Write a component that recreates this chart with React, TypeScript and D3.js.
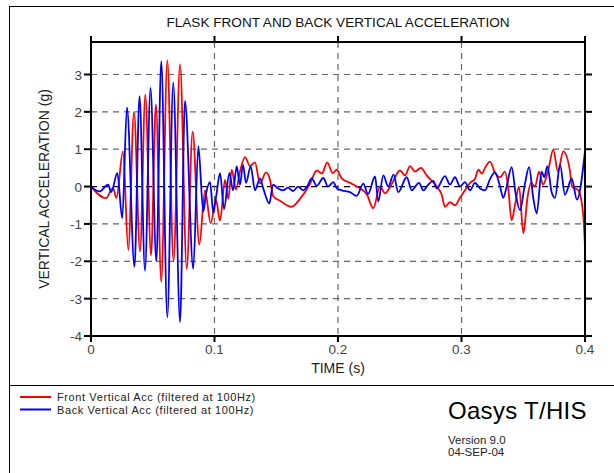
import React from 'react';
import * as d3 from 'd3';

// front (red) trace
const frontTime = [
  0, 0.0121, 0.0178, 0.0206, 0.0259, 0.0302, 0.0348, 0.0397, 0.044, 0.0486, 0.0526, 0.0569,
  0.0618, 0.0668, 0.0721, 0.0775, 0.0823, 0.0877, 0.0923, 0.0969, 0.1012, 0.1045, 0.1085,
  0.1112, 0.1139, 0.1174, 0.1206, 0.1247, 0.1287, 0.1328, 0.1368, 0.1417, 0.1449, 0.1476,
  0.153, 0.1625, 0.1692, 0.1773, 0.1828, 0.187, 0.1913, 0.1957, 0.1989, 0.203, 0.2097,
  0.2164, 0.2232, 0.2286, 0.234, 0.2381, 0.2435, 0.2502, 0.2543, 0.2583, 0.2623, 0.2672,
  0.2718, 0.2799, 0.284, 0.2866, 0.2907, 0.2947, 0.2988, 0.3028, 0.3069, 0.3109, 0.3136,
  0.3166, 0.319, 0.3231, 0.3271, 0.3312, 0.3352, 0.3377, 0.3406, 0.3433, 0.3466, 0.3501,
  0.3534, 0.3563, 0.3595, 0.3628, 0.366, 0.3703, 0.3743, 0.3781, 0.3824, 0.3878, 0.3895,
  0.3946, 0.3984, 0.4,
];
const frontAcc = [
  0, -0.31, -0.04, -0.3, 0.94, -1.7, 2.0, -1.74, 2.46, -1.84, 2.2, -2.55,
  3.38, -2.0, 3.27, -2.2, 1.47, -1.55, -0.1, -0.98, -0.36, -0.91, 0.18,
  -0.33, 0.45, -0.08, 0.4, 0.79, 0.55, 0.65, 0.08, 0.38, 0.19, -0.26,
  -0.38, -0.54, -0.33, 0.07, 0.43, 0.35, 0.65, 0.36, 0.45, 0.22, 0.1,
  -0.02, -0.2, -0.58, 0.0, -0.18, 0.07, 0.43, 0.3, 0.55, 0.4, 0.5,
  0.3, 0.0, -0.22, -0.54, -0.42, -0.5, -0.3, -0.1, 0.1, 0.2, 0.45,
  0.35, 0.5, 0.67, 0.37, 0.25, 0.4, 0.0, -0.9, -0.5, 0.0, -1.25,
  -0.3, 0.1, 0.0, 0.4, 0.05, 0.45, 0.99, 0.4, 0.94, 0.42, 0.0,
  -0.1, -0.7, -1.61,
];

// back (blue) trace
const backTime = [
  0, 0.007, 0.0138, 0.0164, 0.0213, 0.0253, 0.0291, 0.0352, 0.0393, 0.0437, 0.0482, 0.0529,
  0.0569, 0.0618, 0.0666, 0.0721, 0.0761, 0.0828, 0.0869, 0.0909, 0.0931, 0.0964, 0.099,
  0.1016, 0.1045, 0.1077, 0.112, 0.115, 0.118, 0.1206, 0.1231, 0.1255, 0.1293, 0.1328,
  0.1368, 0.1395, 0.1444, 0.1474, 0.1514, 0.1555, 0.1595, 0.1636, 0.1676, 0.1717, 0.1749,
  0.1787, 0.1828, 0.1881, 0.1919, 0.1962, 0.1992, 0.203, 0.2097, 0.2151, 0.2205, 0.2243,
  0.23, 0.2326, 0.2367, 0.2407, 0.245, 0.2488, 0.2556, 0.2597, 0.2656, 0.2691, 0.2731,
  0.2772, 0.2799, 0.2866, 0.2907, 0.2947, 0.2988, 0.3028, 0.3069, 0.3109, 0.315, 0.319,
  0.3231, 0.3271, 0.3312, 0.3338, 0.3366, 0.3406, 0.3439, 0.3474, 0.3514, 0.3547, 0.3581,
  0.3609, 0.3649, 0.367, 0.3695, 0.373, 0.3757, 0.3798, 0.3838, 0.3892, 0.3935, 0.4,
];
const backAcc = [
  0, -0.13, 0.05, -0.15, 0.36, -0.85, 2.12, -2.15, 2.42, -2.25, 2.64, -2.0,
  3.36, -3.5, 2.78, -3.63, 2.29, -2.2, 1.08, -0.67, -0.2, 0.12, -0.69,
  -0.2, 0.36, -0.6, 0.36, -0.1, 0.54, 0.05, 0.58, 0.1, 0.54, -0.1,
  0.22, -0.05, -0.45, 0.05, -0.05, -0.1, -0.03, -0.12, 0.0, -0.1, 0.0,
  0.22, 0.02, 0.23, 0.0, 0.12, -0.05, -0.1, -0.15, -0.25, 0.08, -0.2,
  0.27, -0.4, 0.3, 0.0, 0.32, -0.15, 0.25, -0.1, 0.1, -0.1, 0.05,
  0.15, -0.05, 0.28, 0.05, 0.25, 0.0, 0.12, -0.1, 0.1, -0.05, -0.1,
  0.2, 0.38, 0.0, -0.3, 0.0, 0.52, -0.2, -0.63, 0.08, 0.52, -0.3,
  -0.72, 0.4, 0.25, 0.55, -0.15, -0.3, 0.58, -0.22, 0.22, -0.35, 0.95,
];

const xTicks = [0, 0.1, 0.2, 0.3, 0.4];
const yTicks = [-4, -3, -2, -1, 0, 1, 2, 3];

const series = [
  { name: 'Front Vertical Acc (filtered at 100Hz)', color: '#ff0000', t: frontTime, v: frontAcc },
  { name: 'Back Vertical Acc (filtered at 100Hz)', color: '#0000ff', t: backTime, v: backAcc },
];

const font = '"Liberation Sans", Arial, sans-serif';

export default function App() {
  const W = 614;
  const H = 473;
  const m = { l: 91, r: 585, t: 42, b: 336 };

  const x = d3.scaleLinear().domain([0, 0.4]).range([m.l, m.r]);
  const y = d3.scaleLinear().domain([-4, 3.87]).range([m.b, m.t]);

  const line = d3
    .line<[number, number]>()
    .x(d => x(d[0]))
    .y(d => y(d[1]))
    .curve(d3.curveMonotoneX);

  const fmt = (d: number) => (d === 0 ? '0' : String(d));
  const cx = (m.l + m.r) / 2;

  return (
    <div style={{ position: 'absolute', left: 0, top: 0 }}>
      <svg width={W} height={H} style={{ display: 'block', background: '#fff' }}>
        {/* outer frame */}
        <rect x={9.5} y={6.5} width={700} height={600} fill="none" stroke="#000" strokeWidth={1} />
        <line x1={9} x2={W} y1={385.5} y2={385.5} stroke="#000" strokeWidth={1} />

        <text x={cx} y={27} textAnchor="middle" fontFamily={font} fontSize={13.6} fill="#111">
          FLASK FRONT AND BACK VERTICAL ACCELERATION
        </text>

        {/* grid */}
        {yTicks.filter(d => d > -4).map(d => (
          <line key={'gy' + d} x1={m.l} x2={m.r} y1={y(d)} y2={y(d)}
            stroke={d === 0 ? '#000' : '#666'} strokeWidth={1.2} strokeDasharray="6,5" />
        ))}
        {xTicks.slice(1, -1).map(d => (
          <line key={'gx' + d} x1={x(d)} x2={x(d)} y1={m.t} y2={m.b}
            stroke="#666" strokeWidth={1.2} strokeDasharray="6,5" />
        ))}

        <defs>
          <clipPath id="plotclip">
            <rect x={m.l} y={m.t} width={m.r - m.l} height={m.b - m.t} />
          </clipPath>
        </defs>
        {/* traces */}
        <g clipPath="url(#plotclip)">
          {series.map(s => (
            <path key={s.name} d={line(s.t.map((t, i) => [t, s.v[i]] as [number, number])) || ''}
              fill="none" stroke={s.color} strokeWidth={1.8} strokeLinejoin="round" />
          ))}
        </g>

        {/* frame + ticks */}
        <rect x={m.l} y={m.t} width={m.r - m.l} height={m.b - m.t} fill="none" stroke="#000" strokeWidth={2} />
        {yTicks.map(d => (
          <g key={'ty' + d}>
            <line x1={m.l - 7} x2={m.l} y1={y(d)} y2={y(d)} stroke="#000" strokeWidth={2} />
            <line x1={m.r} x2={m.r + 7} y1={y(d)} y2={y(d)} stroke="#000" strokeWidth={2} />
            <text x={m.l - 9} y={y(d) + 5} textAnchor="end" fontFamily={font} fontSize={13.5} fill="#444">
              {fmt(d)}
            </text>
          </g>
        ))}
        {xTicks.map(d => (
          <g key={'tx' + d}>
            <line x1={x(d)} x2={x(d)} y1={m.b} y2={m.b + 6} stroke="#000" strokeWidth={2} />
            <line x1={x(d)} x2={x(d)} y1={m.t - 6} y2={m.t} stroke="#000" strokeWidth={2} />
            <text x={x(d)} y={m.b + 18} textAnchor="middle" fontFamily={font} fontSize={13.5} fill="#444">
              {fmt(d)}
            </text>
          </g>
        ))}

        <text x={cx} y={373} textAnchor="middle" fontFamily={font} fontSize={14} fill="#222">
          TIME (s)
        </text>
        <text transform={`translate(49,${(m.t + m.b) / 2}) rotate(-90)`} textAnchor="middle"
          fontFamily={font} fontSize={14} fill="#222">
          VERTICAL ACCELERATION (g)
        </text>

        {/* legend */}
        {series.map((s, i) => (
          <g key={'lg' + i} transform={`translate(0,${397 + i * 12.5})`}>
            <line x1={20} x2={51} y1={0} y2={0} stroke={s.color} strokeWidth={2} />
            <text x={57} y={4} fontFamily={font} fontSize={11} letterSpacing={0.6} fill="#222">{s.name}</text>
          </g>
        ))}

        <text x={448} y={419} fontFamily={font} fontSize={24} letterSpacing={0.3} fill="#000">Oasys T/HIS</text>
        <text x={448} y={444} fontFamily={font} fontSize={11.5} fill="#222">Version 9.0</text>
        <text x={448} y={456} fontFamily={font} fontSize={11.5} fill="#222">04-SEP-04</text>
      </svg>
    </div>
  );
}
